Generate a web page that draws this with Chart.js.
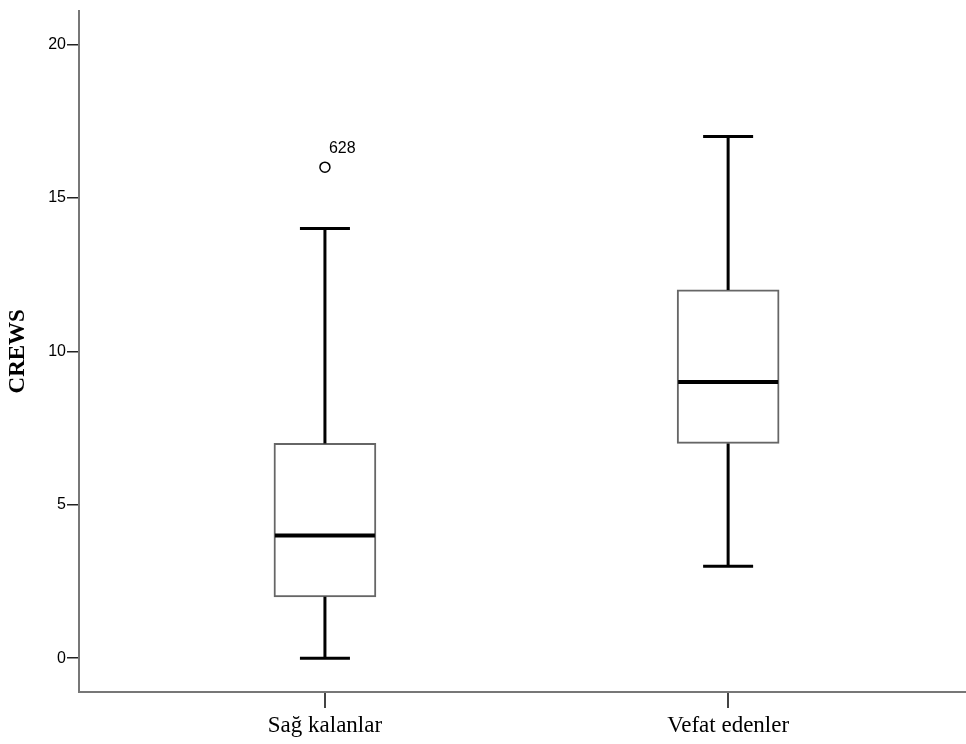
<!DOCTYPE html>
<html>
<head>
<meta charset="utf-8">
<script src="https://cdn.jsdelivr.net/npm/chart.js@4/dist/chart.umd.min.js"></script>
<style>
  html, body { margin: 0; padding: 0; background: #fff; }
  #chart { display: block; }
</style>
</head>
<body>
<canvas id="chart" width="966" height="744"></canvas>
<script>
// Box plot data (CREWS by outcome group)
const groups = ['Sağ kalanlar', 'Vefat edenler'];
const groupPos = [1, 2];
const mins = [0, 3];
const q1s = [2, 7];
const medians = [4, 9];
const q3s = [7, 12];
const maxs = [14, 17];

// Outliers
const outlierGroup = [0];
const outlierValues = [16];
const outlierLabels = ['628'];

const yTicks = [0, 5, 10, 15, 20];

// Whiskers, medians and outliers drawn through the scales
const boxPlotExtras = {
    id: 'boxPlotExtras',
    afterDatasetsDraw(chart) {
        const ctx = chart.ctx;
        const xs = chart.scales.x;
        const ys = chart.scales.y;
        const capHalf = 25;
        const boxHalf = 50;

        ctx.save();
        ctx.strokeStyle = '#000';
        ctx.lineCap = 'butt';

        groups.forEach((g, i) => {
            const px = xs.getPixelForValue(groupPos[i]);

            // whiskers
            ctx.lineWidth = 3;
            ctx.beginPath();
            ctx.moveTo(px, ys.getPixelForValue(q3s[i]));
            ctx.lineTo(px, ys.getPixelForValue(maxs[i]));
            ctx.moveTo(px, ys.getPixelForValue(q1s[i]));
            ctx.lineTo(px, ys.getPixelForValue(mins[i]));
            ctx.stroke();

            // caps
            ctx.beginPath();
            ctx.moveTo(px - capHalf, ys.getPixelForValue(maxs[i]));
            ctx.lineTo(px + capHalf, ys.getPixelForValue(maxs[i]));
            ctx.moveTo(px - capHalf, ys.getPixelForValue(mins[i]));
            ctx.lineTo(px + capHalf, ys.getPixelForValue(mins[i]));
            ctx.stroke();

            // median
            ctx.lineWidth = 4;
            ctx.beginPath();
            ctx.moveTo(px - boxHalf, ys.getPixelForValue(medians[i]));
            ctx.lineTo(px + boxHalf, ys.getPixelForValue(medians[i]));
            ctx.stroke();
        });

        // outliers
        ctx.lineWidth = 1.5;
        ctx.fillStyle = '#000';
        ctx.font = '16px "Liberation Sans", Arial, sans-serif';
        ctx.textAlign = 'left';
        ctx.textBaseline = 'alphabetic';
        outlierValues.forEach((v, k) => {
            const px = xs.getPixelForValue(groupPos[outlierGroup[k]]);
            const py = ys.getPixelForValue(v);
            ctx.beginPath();
            ctx.arc(px, py, 5, 0, Math.PI * 2);
            ctx.stroke();
            ctx.fillText(outlierLabels[k], px + 4, py - 14);
        });

        ctx.restore();
    }
};

new Chart(document.getElementById('chart'), {
    type: 'bar',
    data: {
        datasets: [{
            label: 'CREWS',
            data: groupPos.map((x, i) => ({ x: x, y: [q1s[i], q3s[i]] })),
            backgroundColor: '#ffffff',
            borderColor: '#666666',
            borderWidth: 2,
            borderSkipped: false,
            barThickness: 102
        }]
    },
    options: {
        responsive: false,
        animation: false,
        layout: {
            padding: { top: 3, right: 0, left: 0, bottom: 0 }
        },
        plugins: {
            legend: { display: false },
            tooltip: { enabled: false }
        },
        scales: {
            x: {
                type: 'linear',
                offset: false,
                min: 0.39,
                max: 2.59,
                afterBuildTicks: (scale) => {
                    scale.ticks = groupPos.map(v => ({ value: v }));
                },
                afterFit: (scale) => {
                    scale.height = 52;
                },
                ticks: {
                    callback: (value) => {
                        const i = groupPos.indexOf(value);
                        return i >= 0 ? groups[i] : '';
                    },
                    color: '#000',
                    padding: 4,
                    maxRotation: 0,
                    autoSkip: false,
                    font: { family: '"Liberation Serif", "Times New Roman", serif', size: 23 }
                },
                grid: {
                    offset: false,
                    drawOnChartArea: false,
                    drawTicks: true,
                    tickLength: 16,
                    color: '#444',
                    lineWidth: 2
                },
                border: {
                    color: '#777',
                    width: 2
                }
            },
            y: {
                min: -1.1,
                max: 21.1,
                afterBuildTicks: (scale) => {
                    scale.ticks = yTicks.map(v => ({ value: v }));
                },
                afterFit: (scale) => {
                    scale.width = 79;
                },
                ticks: {
                    color: '#000',
                    padding: 1,
                    font: { family: '"Liberation Sans", Arial, sans-serif', size: 16 }
                },
                grid: {
                    drawOnChartArea: false,
                    drawTicks: true,
                    tickLength: 12,
                    color: '#222',
                    lineWidth: 1.5
                },
                border: {
                    color: '#777',
                    width: 2
                },
                title: {
                    display: true,
                    text: 'CREWS',
                    color: '#000',
                    padding: { top: 4, bottom: 4 },
                    font: { family: '"Liberation Serif", "Times New Roman", serif', size: 23, weight: 'bold' }
                }
            }
        }
    },
    plugins: [boxPlotExtras]
});
</script>
</body>
</html>
